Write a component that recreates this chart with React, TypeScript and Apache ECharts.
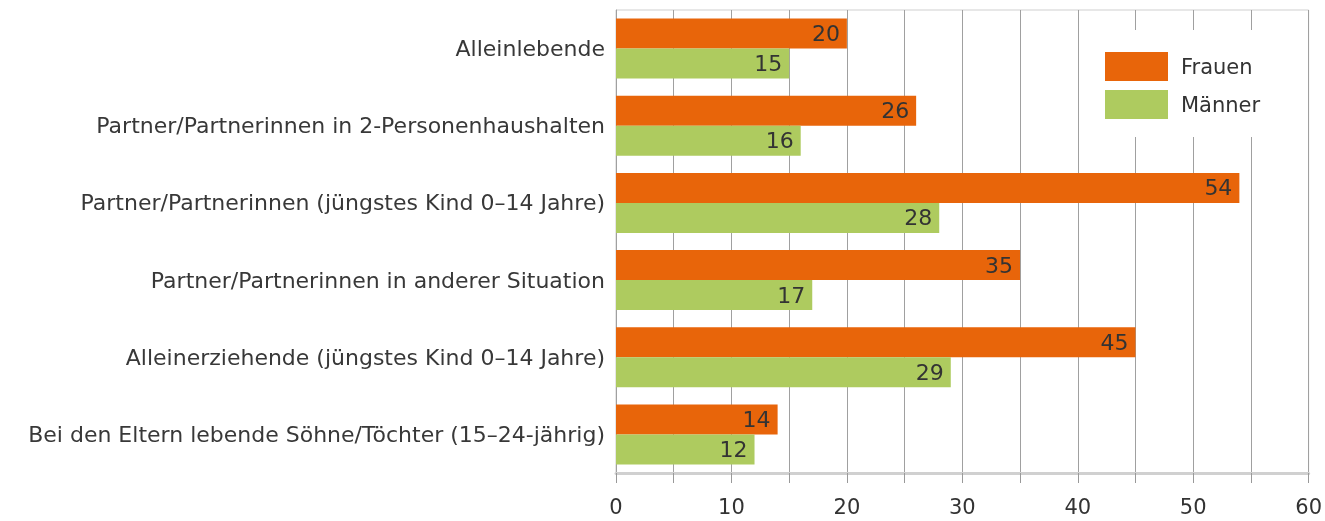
import React, { useEffect, useRef } from "react";
import * as echarts from "echarts";

const categories = [
  "Alleinlebende",
  "Partner/Partnerinnen in 2-Personenhaushalten",
  "Partner/Partnerinnen (jüngstes Kind 0–14 Jahre)",
  "Partner/Partnerinnen in anderer Situation",
  "Alleinerziehende (jüngstes Kind 0–14 Jahre)",
  "Bei den Eltern lebende Söhne/Töchter (15–24-jährig)",
];
const frauen = [20, 26, 54, 35, 45, 14];
const maenner = [15, 16, 28, 17, 29, 12];
const seriesNames = ["Frauen", "Männer"];

export default function App() {
  const ref = useRef<HTMLDivElement>(null);
  useEffect(() => {
    if (!ref.current) return;
    const chart = echarts.init(ref.current, null, { renderer: "svg" });
    const font = "'DejaVu Sans', sans-serif";
    chart.setOption({
      animation: false,
      textStyle: { fontFamily: font },
      grid: {
        left: 616,
        right: 16,
        top: 10,
        bottom: 48,
        show: true,
        borderColor: "#cfcfcf",
        borderWidth: 1,
      },
      legend: {
        orient: "vertical",
        left: 1088,
        top: 30,
        padding: [22, 16, 18, 17],
        backgroundColor: "#ffffff",
        itemWidth: 63,
        itemHeight: 29,
        itemGap: 9,
        icon: "rect",
        textStyle: { fontSize: 21, color: "#333", fontFamily: font, padding: [0, 0, 0, 8] },
        data: seriesNames,
      },
      xAxis: {
        type: "value",
        min: 0,
        max: 60,
        interval: 5,
        axisLine: { show: true, lineStyle: { color: "#d0d0d0", width: 3 } },
        axisTick: { show: true, length: 10, lineStyle: { color: "#999" } },
        splitLine: { show: true, lineStyle: { color: "#a0a0a0", width: 1 } },
        axisLabel: {
          fontSize: 21,
          color: "#333",
          margin: 23,
          fontFamily: font,
          formatter: (v: number) => (v % 10 === 0 ? String(v) : ""),
        },
      },
      yAxis: {
        type: "category",
        inverse: true,
        data: categories,
        axisLine: { show: true, lineStyle: { color: "#a0a0a0" } },
        axisTick: { show: false },
        axisLabel: { fontSize: 22, color: "#383838", margin: 11, fontFamily: font },
      },
      series: [
        {
          name: seriesNames[0],
          type: "bar",
          data: frauen,
          barWidth: 30,
          barGap: "0%",
          itemStyle: { color: "#e8650a" },
          label: { show: true, position: "insideRight", color: "#333", fontSize: 22, distance: 7, fontFamily: font },
        },
        {
          name: seriesNames[1],
          type: "bar",
          data: maenner,
          barWidth: 30,
          barGap: "0%",
          itemStyle: { color: "#aecb5f" },
          label: { show: true, position: "insideRight", color: "#333", fontSize: 22, distance: 7, fontFamily: font },
        },
      ],
    });
    return () => chart.dispose();
  }, []);
  return (
    <div
      ref={ref}
      style={{ position: "fixed", left: 0, top: 0, width: 1325, height: 521 }}
    />
  );
}
